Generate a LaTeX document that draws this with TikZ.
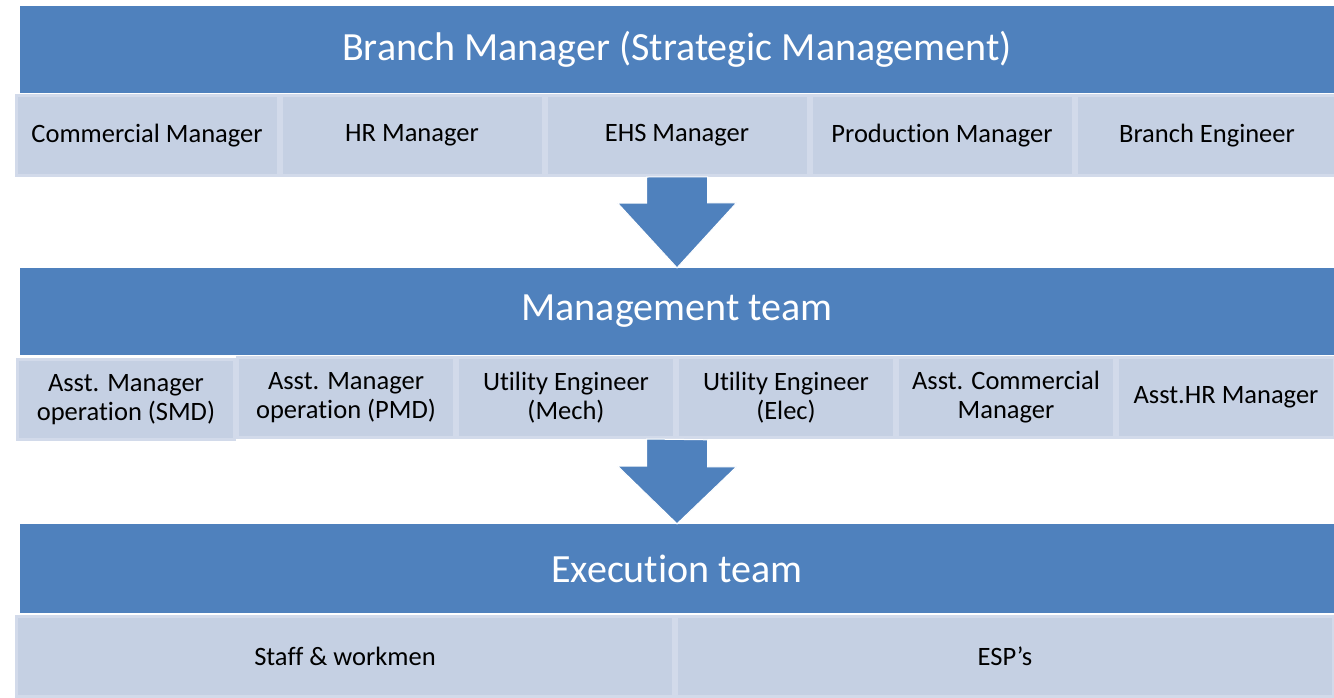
\documentclass[tikz,border=0pt]{standalone}
\usepackage{fontspec}
\setmainfont{Carlito}[Ligatures=NoCommon]
\usepackage{tikz}
\usetikzlibrary{positioning}
\definecolor{barblue}{RGB}{79,129,189}
\definecolor{boxfill}{RGB}{197,208,227}
\definecolor{boxline}{RGB}{210,218,234}

\begin{document}
\begin{tikzpicture}[x=1pt,y=-1pt,
    bar/.style={fill=barblue, text=white, minimum width=1314pt, minimum height=87pt,
                inner sep=0pt, font=\fontsize{40}{44}\selectfont},
    box/.style={fill=boxfill, draw=boxline, line width=3pt, minimum height=80pt,
                inner sep=0pt, align=center, font=\fontsize{26.5}{29}\selectfont},
    arrowfill/.style={fill=barblue, draw=white, line width=1pt}]
    \useasboundingbox (0,0) rectangle (1334,697);
    \clip (0,0) rectangle (1334,697);
    \fill[white] (0,0) rectangle (1334,697);
    % strategic level
    \node[bar] (bm) at (677,49.5) {Branch Manager (Strategic Management)};
    \node[box, minimum width=262pt] (cm) at (147,135.5) {Commercial Manager};
    \node[box, minimum width=262pt, right=0pt of cm] (hr)   {HR Manager};
    \node[box, minimum width=262pt, right=0pt of hr] (ehs)  {EHS Manager};
    \node[box, minimum width=262pt, right=0pt of ehs] (pm)  {Production Manager};
    \node[box, minimum width=262pt, right=0pt of pm] (be)   {Branch Engineer};
    % management level
    \node[bar] (mt) at (677,311.5) {Management team};
    \node[box, minimum width=217pt] (smd) at (126,399.5) {Asst. Manager\\operation (SMD)};
    \node[box, minimum width=217pt, right=0pt of smd, yshift=2pt] (pmd) {Asst. Manager\\operation (PMD)};
    \node[box, minimum width=217pt, right=0pt of pmd] (mech) {Utility Engineer\\(Mech)};
    \node[box, minimum width=217pt, right=0pt of mech] (elec) {Utility Engineer\\(Elec)};
    \node[box, minimum width=217pt, right=0pt of elec] (acm) {Asst. Commercial\\Manager};
    \node[box, minimum width=217pt, right=0pt of acm] (ahr) {Asst.HR Manager};
    % execution level
    \node[bar, minimum height=89pt] (et) at (677,568.5) {Execution team};
    \node[box, minimum width=657pt] (staff) at (345,656.5) {Staff \& workmen};
    \node[box, minimum width=657pt, right=0pt of staff] (esp) {ESP’s};
    % block arrows
    \path[arrowfill] ([xshift=-30.5pt]ehs.south) -- ++(0,26) -- ++(-29,0)
        -- (ehs.south |- mt.north) -- ++(59.5,-65) -- ++(-29,0) -- ++(0,-26) -- cycle;
    \path[arrowfill] ([xshift=-30.5pt]ehs.south |- mech.south) -- ++(0,27) -- ++(-29,0)
        -- (ehs.south |- et.north) -- ++(59.5,-57) -- ++(-29,0) -- ++(0,-27) -- cycle;
\end{tikzpicture}
\end{document}
